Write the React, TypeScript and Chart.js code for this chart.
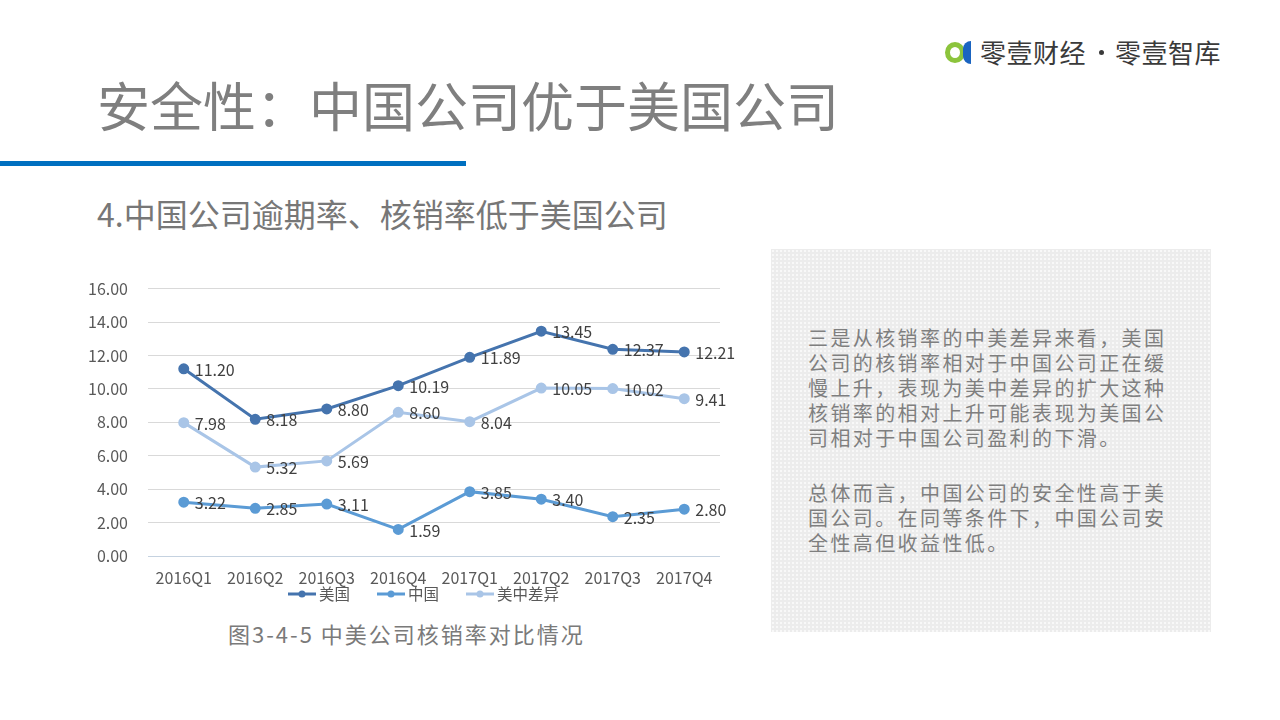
import React, { useEffect, useRef } from "react";
import { Chart, registerables } from "chart.js";

Chart.register(...registerables);

const categories = ["2016Q1", "2016Q2", "2016Q3", "2016Q4", "2017Q1", "2017Q2", "2017Q3", "2017Q4"];
const usValues = [11.2, 8.18, 8.8, 10.19, 11.89, 13.45, 12.37, 12.21];
const cnValues = [3.22, 2.85, 3.11, 1.59, 3.85, 3.4, 2.35, 2.8];
const diffValues = [7.98, 5.32, 5.69, 8.6, 8.04, 10.05, 10.02, 9.41];
const seriesNames = ["美国", "中国", "美中差异"];
const seriesColors = ["#4574ae", "#5b9bd5", "#a9c5e7"];
const yMin = 0;
const yMax = 16;
const yStep = 2;

const paragraph1 = [
  "三是从核销率的中美差异来看，美国",
  "公司的核销率相对于中国公司正在缓",
  "慢上升，表现为美中差异的扩大这种",
  "核销率的相对上升可能表现为美国公",
  "司相对于中国公司盈利的下滑。",
];
const paragraph2 = [
  "总体而言，中国公司的安全性高于美",
  "国公司。在同等条件下，中国公司安",
  "全性高但收益性低。",
];

const FONT = '"Noto Sans CJK SC", "Noto Sans", sans-serif';

const dataLabelPlugin = {
  id: "dataLabels",
  afterDatasetsDraw(chart: any) {
    const ctx = chart.ctx;
    ctx.save();
    ctx.font = `16px ${FONT}`;
    ctx.fillStyle = "#404040";
    ctx.textAlign = "left";
    ctx.textBaseline = "middle";
    chart.data.datasets.forEach((ds: any, i: number) => {
      const meta = chart.getDatasetMeta(i);
      meta.data.forEach((pt: any, j: number) => {
        const v = ds.data[j];
        ctx.fillText(Number(v).toFixed(2), pt.x + 11, pt.y + 1);
      });
    });
    ctx.restore();
  },
};

// legend drawn under the x axis labels: line-with-dot marker + text
const lineLegendPlugin = {
  id: "lineLegend",
  afterDraw(chart: any) {
    const ctx = chart.ctx;
    const lineW = 28;
    const gap = 3;
    const spacing = 27;
    ctx.save();
    ctx.font = `15.5px ${FONT}`;
    ctx.textBaseline = "middle";
    ctx.textAlign = "left";
    const items = chart.data.datasets.map((ds: any) => ({
      text: ds.label,
      color: ds.borderColor,
      w: lineW + gap + ctx.measureText(ds.label).width,
    }));
    const total = items.reduce((a: number, it: any) => a + it.w, 0) + spacing * (items.length - 1);
    let x = chart.width / 2 - total / 2 + 1;
    const y = chart.chartArea.bottom + 38;
    items.forEach((it: any) => {
      ctx.strokeStyle = it.color;
      ctx.fillStyle = it.color;
      ctx.lineWidth = 3;
      ctx.beginPath();
      ctx.moveTo(x, y);
      ctx.lineTo(x + lineW, y);
      ctx.stroke();
      ctx.beginPath();
      ctx.arc(x + lineW / 2, y, 3.5, 0, Math.PI * 2);
      ctx.fill();
      ctx.fillStyle = "#595959";
      ctx.fillText(it.text, x + lineW + gap, y);
      x += it.w + spacing;
    });
    ctx.restore();
  },
};

function LineChart() {
  const ref = useRef<HTMLCanvasElement | null>(null);
  useEffect(() => {
    if (!ref.current) return;
    const allValues = [usValues, cnValues, diffValues];
    const chart = new Chart(ref.current, {
      type: "line",
      data: {
        labels: categories,
        datasets: allValues.map((vals, i) => ({
          label: seriesNames[i],
          data: vals,
          borderColor: seriesColors[i],
          backgroundColor: seriesColors[i],
          pointBackgroundColor: seriesColors[i],
          pointBorderColor: seriesColors[i],
          borderWidth: 3,
          pointRadius: 4,
          tension: 0,
          yAxisID: "y",
        })),
      },
      options: {
        responsive: false,
        animation: false,
        devicePixelRatio: 1,
        layout: { padding: { top: 6, right: 0, bottom: 19, left: 0 } },
        scales: {
          x: {
            offset: true,
            grid: { display: false, drawTicks: false },
            border: { display: false },
            ticks: { color: "#595959", font: { size: 16, family: FONT }, padding: 12, maxRotation: 0, autoSkip: false },
            afterFit: (s: any) => {
              s.height = 40;
            },
          },
          y: {
            min: yMin,
            max: yMax,
            position: "left",
            grid: {
              color: (c: any) => (c.tick && c.tick.value === 0 ? "#c5d2e0" : "#d9d9d9"),
              drawTicks: false,
              lineWidth: 1,
            },
            border: { display: false },
            ticks: {
              stepSize: yStep,
              color: "#595959",
              font: { size: 16, family: FONT },
              padding: 20,
              callback: (v: any) => Number(v).toFixed(2),
            },
            afterFit: (s: any) => {
              s.width = 68;
            },
          },
          y2: {
            position: "right",
            display: true,
            grid: { display: false },
            border: { display: false },
            ticks: { display: false },
            afterFit: (s: any) => {
              s.width = 45;
            },
          },
        },
        plugins: {
          tooltip: { enabled: false },
          legend: { display: false },
        },
      },
      plugins: [dataLabelPlugin, lineLegendPlugin],
    } as any);
    return () => chart.destroy();
  }, []);
  return (
    <canvas
      ref={ref}
      width={685}
      height={356}
      style={{ position: "absolute", left: 80, top: 259, width: 685, height: 356 }}
    />
  );
}

export default function App() {
  const textLine = (t: string, i: number) => (
    <div key={i} style={{ height: 25, lineHeight: "25px", whiteSpace: "nowrap" }}>
      {t}
    </div>
  );
  const logoText: React.CSSProperties = {
    position: "absolute",
    top: 36,
    fontSize: 26,
    lineHeight: "32px",
    color: "#3a3a3a",
    whiteSpace: "nowrap",
    letterSpacing: 0.5,
  };
  return (
    <div
      style={{
        position: "fixed",
        left: 0,
        top: 0,
        width: 1280,
        height: 720,
        background: "#ffffff",
        overflow: "hidden",
        fontFamily: FONT,
      }}
    >
      {/* logo */}
      <div
        style={{
          position: "absolute",
          left: 945,
          top: 42,
          width: 10,
          height: 11,
          borderRadius: "50%",
          border: "5px solid #8cc43c",
        }}
      />
      <div
        style={{
          position: "absolute",
          left: 963,
          top: 41,
          width: 8,
          height: 23,
          background: "#1a64c0",
          borderRadius: "9px 0 0 9px",
        }}
      />
      <div style={{ ...logoText, left: 980 }}>零壹财经</div>
      <div
        style={{
          position: "absolute",
          left: 1099,
          top: 50,
          width: 5,
          height: 5,
          borderRadius: "50%",
          background: "#3a3a3a",
        }}
      />
      <div style={{ ...logoText, left: 1115 }}>零壹智库</div>

      {/* title */}
      <div
        style={{
          position: "absolute",
          left: 97,
          top: 74,
          fontSize: 53,
          lineHeight: "60px",
          color: "#7f7f7f",
          whiteSpace: "nowrap",
        }}
      >
        安全性：中国公司优于美国公司
      </div>
      <div style={{ position: "absolute", left: 0, top: 161, width: 466, height: 5, background: "#0070c0" }} />

      {/* subtitle */}
      <div
        style={{
          position: "absolute",
          left: 97,
          top: 194,
          fontSize: 32,
          lineHeight: "38px",
          color: "#777777",
          whiteSpace: "nowrap",
        }}
      >
        4.中国公司逾期率、核销率低于美国公司
      </div>

      <LineChart />

      {/* caption */}
      <div
        style={{
          position: "absolute",
          left: 228,
          top: 619,
          fontSize: 22,
          lineHeight: "28px",
          letterSpacing: 2,
          color: "#7a7a7a",
          whiteSpace: "nowrap",
        }}
      >
        图3-4-5 中美公司核销率对比情况
      </div>

      {/* text box */}
      <div
        style={{
          position: "absolute",
          left: 771,
          top: 249,
          width: 440,
          height: 383,
          backgroundColor: "#ececec",
          backgroundImage: "radial-gradient(circle, #f8f8f8 0.9px, transparent 1.2px)",
          backgroundSize: "4px 4px",
        }}
      >
        <div
          style={{
            position: "absolute",
            left: 37,
            top: 76,
            fontSize: 20,
            letterSpacing: 2.4,
            color: "#7f7f7f",
          }}
        >
          {paragraph1.map(textLine)}
          <div style={{ height: 30 }} />
          {paragraph2.map(textLine)}
        </div>
      </div>
    </div>
  );
}
